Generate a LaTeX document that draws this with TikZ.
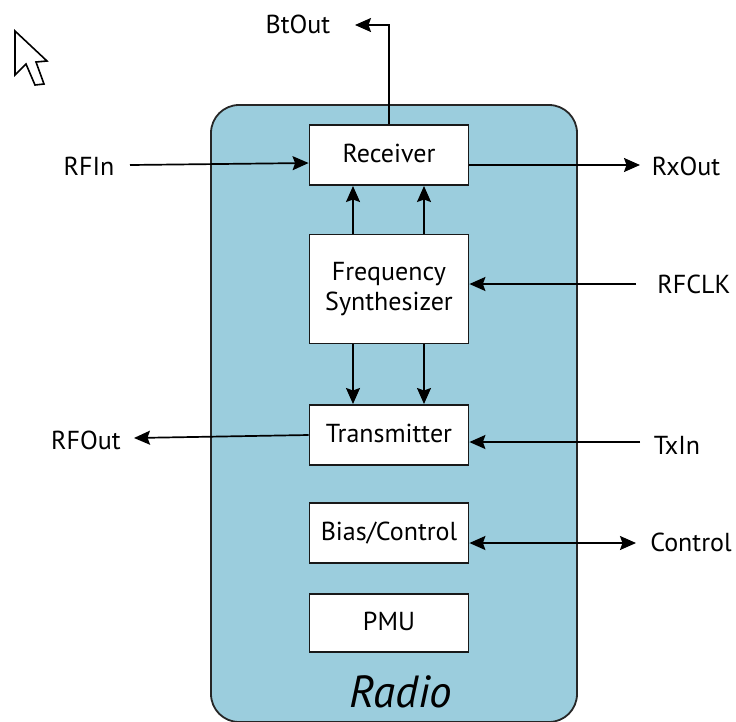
\documentclass[tikz,border=0pt]{standalone}
\usepackage{fontspec}
\setmainfont{PT Sans}
\usetikzlibrary{arrows.meta}
\definecolor{radio}{RGB}{155,205,221}
\newcommand{\nudge}[1]{\raisebox{3pt}{#1}}
\tikzset{x=1pt,y=-1pt,
 block/.style={draw=black!90,line width=1.8pt,fill=white,align=center,inner sep=0pt,font=\fontsize{26}{30}\selectfont},
 lab/.style={font=\fontsize{26}{30}\selectfont,inner sep=0pt},
 conn/.style={line width=1.7pt,-{Stealth[length=16pt,width=14pt,inset=2.5pt]}},
 both/.style={line width=1.7pt,{Stealth[length=16pt,width=14pt,inset=2.5pt]}-{Stealth[length=16pt,width=14pt,inset=2.5pt]}}}
\begin{document}
\begin{tikzpicture}
\useasboundingbox (0,0) rectangle (736,721);
\draw[line width=1.8pt,draw=black!85,fill=radio,rounded corners=28pt] (211,105) rectangle (577,722);
\node[block,minimum width=159pt,minimum height=60pt] (rx) at (389,155) {\nudge{Receiver}};
\node[block,minimum width=159pt,minimum height=109pt] (fs) at (389,289) {Frequency\\Synthesizer};
\node[block,minimum width=159pt,minimum height=60pt] (tx) at (389,435) {\nudge{Transmitter}};
\node[block,minimum width=159pt,minimum height=60pt] (bc) at (389,533) {\nudge{Bias/Control}};
\node[block,minimum width=159pt,minimum height=58pt] (pmu) at (389,623) {\nudge{PMU}};
\node[font=\fontsize{45}{50}\selectfont\itshape,inner sep=0pt] (radiolab) at (401,692) {Radio};
\node[lab] (bt) at (298,24) {BtOut};
\node[lab] (rfin) at (89,166) {RFIn};
\node[lab] (rxo) at (686,166) {RxOut};
\node[lab] (clk) at (694,284) {RFCLK};
\node[lab] (rfo) at (86,440) {RFOut};
\node[lab] (txi) at (677,445) {TxIn};
\node[lab] (ctl) at (691,542) {Control};
\coordinate (btc) at (355,25);
\draw[conn] (rx.north) -- (389,25) -- (btc);
\draw[conn] (130,165) -- (rx.west|-0,163);
\draw[conn] (rx.east|-0,165) -- (640,165);
\draw[conn] (636,284) -- (fs.east|-0,284);
\draw[conn] (tx.west|-0,435) -- (134,438);
\draw[conn] (640,442) -- (tx.east|-0,442);
\draw[both] (bc.east|-0,543) -- (636,543);
\draw[conn] (353,234) -- (353,186);
\draw[conn] (424,234) -- (424,186);
\draw[conn] (353,344) -- (353,404);
\draw[conn] (424,344) -- (424,404);
\draw[line width=1.6pt,fill=white,line join=miter] (15,31) -- (15,75) -- (26,64) -- (35,85) -- (44,84) -- (36,62) -- (47,61) -- cycle;
\end{tikzpicture}
\end{document}
